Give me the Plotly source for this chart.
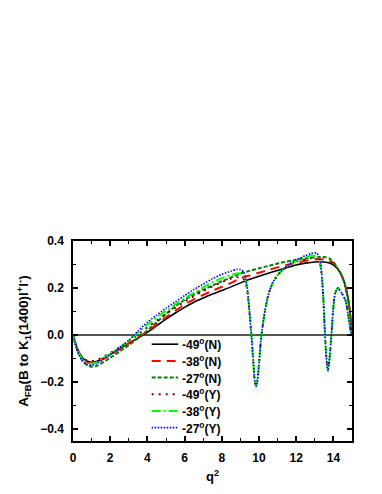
import plotly.graph_objects as go

# ---------------- data ----------------
q_N = [0, 0.25, 0.5, 0.75, 1, 1.25, 1.5, 2, 2.5, 3, 3.5, 4, 4.5, 5, 5.5, 6, 6.5, 7, 7.5, 8,
       8.5, 9, 9.5, 10, 10.5, 11, 11.5, 12, 12.5, 13, 13.5, 13.8, 14.1, 14.4, 14.6, 14.8, 14.9, 15]

afb_49N = [0, -0.06, -0.095, -0.11, -0.115, -0.112, -0.104, -0.083, -0.059, -0.035, -0.012, 0.012,
           0.04, 0.068, 0.094, 0.118, 0.14, 0.158, 0.175, 0.19, 0.205, 0.222, 0.237, 0.25, 0.263,
           0.275, 0.287, 0.298, 0.306, 0.311, 0.311, 0.306, 0.292, 0.26, 0.22, 0.15, 0.09, 0]

afb_38N = [0, -0.063, -0.1, -0.116, -0.12, -0.116, -0.107, -0.085, -0.06, -0.035, -0.01, 0.016,
           0.046, 0.076, 0.104, 0.13, 0.152, 0.171, 0.189, 0.205, 0.222, 0.242, 0.254, 0.265, 0.277,
           0.288, 0.298, 0.308, 0.316, 0.322, 0.322, 0.316, 0.298, 0.262, 0.22, 0.15, 0.09, 0]

afb_27N = [0, -0.068, -0.108, -0.128, -0.135, -0.131, -0.121, -0.097, -0.07, -0.043, -0.012, 0.02,
           0.055, 0.09, 0.122, 0.15, 0.172, 0.193, 0.211, 0.229, 0.245, 0.262, 0.273, 0.284, 0.294,
           0.304, 0.313, 0.32, 0.326, 0.331, 0.332, 0.325, 0.3, 0.26, 0.222, 0.15, 0.09, 0]

q_Y = [0, 0.25, 0.5, 0.75, 1, 1.25, 1.5, 2, 2.5, 3, 3.5, 4, 4.5, 5, 5.5, 6, 6.5, 7, 7.5, 8,
       8.5, 8.8, 9.0, 9.2, 9.35, 9.5, 9.6, 9.7, 9.78, 9.85, 9.92, 10.0, 10.1, 10.2, 10.3,
       10.5, 10.75, 11.0, 11.25, 11.5, 12.0, 12.5, 12.8, 13.1, 13.25, 13.35, 13.45, 13.53, 13.6,
       13.65, 13.71, 13.8, 13.9, 14.0, 14.1, 14.25, 14.45, 14.65, 14.8, 14.92, 15]

afb_49Y = [0, -0.062, -0.095, -0.108, -0.11, -0.106, -0.098, -0.076, -0.052, -0.027,
           0.003, 0.033, 0.062, 0.09, 0.117, 0.142, 0.165, 0.187, 0.207, 0.225,
           0.24, 0.246, 0.246, 0.236, 0.195, 0.085, -0.01, -0.12, -0.2, -0.214,
           -0.19, -0.125, -0.023, 0.04, 0.095, 0.17, 0.224, 0.254, 0.274, 0.29,
           0.312, 0.322, 0.327, 0.328, 0.31, 0.268, 0.165, 0.03, -0.07, -0.12,
           -0.148, -0.093, 0.01, 0.12, 0.18, 0.2, 0.178, 0.148, 0.08, 0.02, 0]

afb_38Y = [0, -0.066, -0.102, -0.118, -0.121, -0.116, -0.105, -0.08, -0.053, -0.024,
           0.012, 0.045, 0.075, 0.104, 0.131, 0.156, 0.18, 0.203, 0.224, 0.242,
           0.256, 0.262, 0.262, 0.25, 0.205, 0.088, -0.01, -0.12, -0.2, -0.216,
           -0.19, -0.125, -0.023, 0.04, 0.095, 0.171, 0.225, 0.255, 0.276, 0.292,
           0.316, 0.331, 0.337, 0.338, 0.32, 0.274, 0.168, 0.03, -0.07, -0.12,
           -0.15, -0.093, 0.01, 0.12, 0.18, 0.2, 0.178, 0.148, 0.08, 0.02, 0]

afb_27Y = [0, -0.07, -0.108, -0.125, -0.128, -0.122, -0.11, -0.083, -0.054, -0.022,
           0.018, 0.055, 0.085, 0.115, 0.142, 0.168, 0.194, 0.217, 0.24, 0.258,
           0.272, 0.279, 0.279, 0.265, 0.213, 0.09, -0.01, -0.12, -0.2, -0.218,
           -0.19, -0.125, -0.023, 0.04, 0.095, 0.171, 0.225, 0.255, 0.276, 0.293,
           0.32, 0.338, 0.347, 0.349, 0.33, 0.28, 0.17, 0.03, -0.07, -0.12,
           -0.152, -0.093, 0.01, 0.12, 0.18, 0.2, 0.178, 0.148, 0.08, 0.02, 0]

x_ticks = [0, 2, 4, 6, 8, 10, 12, 14]
y_ticks = [-0.4, -0.2, 0.0, 0.2, 0.4]

# ---------------- figure ----------------
FONT = "Liberation Sans, Arial, sans-serif"
Y_TITLE = "<b>A<sub>FB</sub>(B to K<sub>1</sub>(1400)l<sup>+</sup>l<sup>-</sup>)</b>"

series = [
    ("-49<sup>o</sup>(N)", q_N, afb_49N, "#000000", "solid", 1.6),
    ("-38<sup>o</sup>(N)", q_N, afb_38N, "#ff0000", "9px,6px", 2),
    ("-27<sup>o</sup>(N)", q_N, afb_27N, "#008000", "4px,2px", 2),
    ("-49<sup>o</sup>(Y)", q_Y, afb_49Y, "#800000", "2px,5px", 2),
    ("-38<sup>o</sup>(Y)", q_Y, afb_38Y, "#00ff00", "9px,3px,2px,3px", 2),
    ("-27<sup>o</sup>(Y)", q_Y, afb_27Y, "#0000ff", "1.5px,1.5px", 1.6),
]

fig = go.Figure()
for name, xs, ys, col, dash, w in series:
    fig.add_trace(go.Scatter(
        x=xs, y=ys, name=name, mode="lines", showlegend=False,
        line=dict(color=col, dash=dash, width=w, shape="spline", smoothing=0.6),
    ))

# hand-placed legend (paper coordinates), matching the reference layout
leg_x0, leg_x1, leg_tx = 0.282, 0.377, 0.385
leg_y0, leg_dy = 0.484, 0.0834
for i, (name, xs, ys, col, dash, w) in enumerate(series):
    yy = leg_y0 - i * leg_dy
    fig.add_shape(type="line", xref="paper", yref="paper",
                  x0=leg_x0, x1=leg_x1, y0=yy, y1=yy,
                  line=dict(color=col, dash=dash, width=w))
    fig.add_annotation(xref="paper", yref="paper", x=leg_tx, y=yy,
                       xanchor="left", yanchor="middle", showarrow=False,
                       text="<b>" + name + "</b>",
                       font=dict(family=FONT, size=12, color="black"))

axis_common = dict(
    showline=True, linecolor="black", linewidth=1.5, mirror="allticks",
    ticks="inside", ticklen=5, tickwidth=1.5, tickcolor="black",
    showgrid=False,
    tickfont=dict(family=FONT, size=12, color="black", weight="bold"),
)

fig.update_xaxes(
    range=[0, 15], tickvals=x_ticks, zeroline=False,
    minor=dict(ticks="inside", ticklen=3, tickwidth=1.2, dtick=1, tick0=0, tickcolor="black"),
    title=dict(text="<b>q<sup>2</sup></b>", font=dict(family=FONT, size=13, color="black"), standoff=8),
    ticklabelstandoff=5,
    **axis_common,
)
fig.update_yaxes(
    range=[-0.45, 0.4], tickvals=y_ticks, tickformat=".1f",
    zeroline=True, zerolinecolor="#555555", zerolinewidth=1.6,
    minor=dict(ticks="inside", ticklen=3, tickwidth=1.2, dtick=0.1, tick0=0, tickcolor="black"),
    title=dict(text=Y_TITLE, font=dict(family=FONT, size=13.5, color="black"), standoff=8),
    ticklabelstandoff=5,
    **axis_common,
)

# the page body has an 8px margin, so the figure is 8px smaller and margins shifted
fig.update_layout(
    width=374, height=486,
    margin=dict(l=65, r=30, t=233, b=48),
    paper_bgcolor="white", plot_bgcolor="white",
    showlegend=False,
)

fig.write_html("out.html")
